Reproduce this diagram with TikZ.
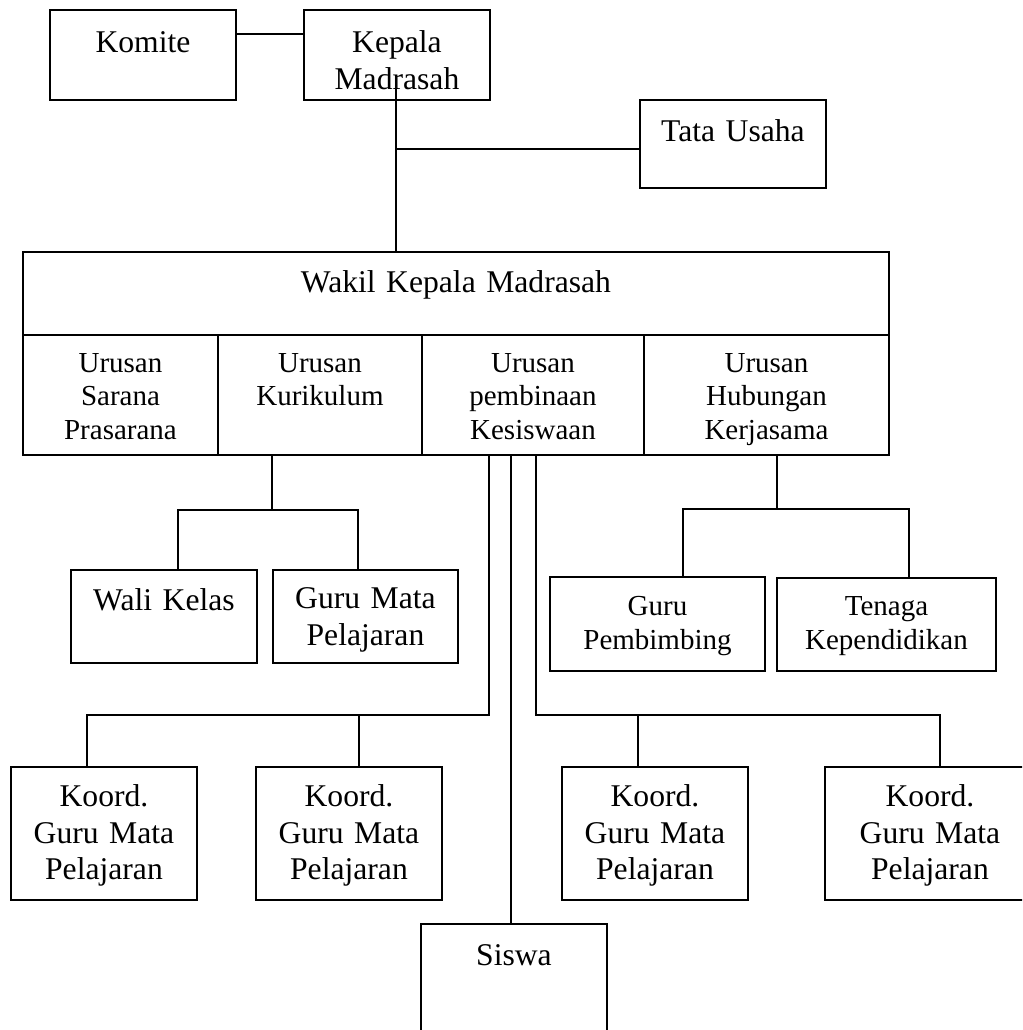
\documentclass[tikz,border=0pt]{standalone}
\usepackage{fontspec}
\setmainfont{Liberation Serif}
\usetikzlibrary{positioning,calc}
\newlength{\pxu}
\setlength{\pxu}{0.02cm}
\newcommand{\orgfont}{\fontsize{18}{20.6}\selectfont}
\newcommand{\orgsmallfont}{\fontsize{16.5}{18.8}\selectfont}

\begin{document}
\begin{tikzpicture}[
    x=0.02cm, y=-0.02cm,
    orgbox/.style n args={3}{draw, line width=1.1pt, anchor=north west,
        inner sep=0pt, align=center, font=\orgfont,
        text width=#1\pxu, text height=#3\pxu, text depth=#2\pxu-#3\pxu},
    smalltext/.style={font=\orgsmallfont},
    link/.style={line width=1.1pt}
]
\useasboundingbox (0,0) rectangle (1022,1030);
\clip (0,0) rectangle (1022,1030);

% ---- Top level ----
\node[orgbox={186}{90}{43}] (komite) at (49,9) {Komite};
\node[orgbox={186}{90}{43}] (kepala) at (303,9) {Kepala\\Madrasah};
\node[orgbox={186}{88}{42}] (tata) at (639,99) {Tata Usaha};

% ---- Wakil and urusan ----
\node[orgbox={866}{83}{41}] (wakil) at (22,251) {Wakil Kepala Madrasah};
\node[orgbox={195}{120}{38}, smalltext] (sarana) at (22,334) {Urusan\\Sarana\\Prasarana};
\node[orgbox={204}{120}{38}, smalltext] (kurikulum) at (217,334) {Urusan\\Kurikulum};
\node[orgbox={222}{120}{38}, smalltext] (pembinaan) at (421,334) {Urusan\\pembinaan\\Kesiswaan};
\node[orgbox={245}{120}{38}, smalltext] (hubungan) at (643,334) {Urusan\\Hubungan\\Kerjasama};

% ---- Middle row ----
\node[orgbox={186}{93}{41}] (wali) at (70,569) {Wali Kelas};
\node[orgbox={185}{93}{39}] (gurumapel) at (272,569) {Guru Mata\\Pelajaran};
\node[orgbox={215}{94}{39}, smalltext] (pembimbing) at (549,576) {Guru\\Pembimbing};
\node[orgbox={219}{93}{38}, smalltext] (tenaga) at (776,577) {Tenaga\\Kependidikan};

% ---- Koordinator row ----
\node[orgbox={186}{133}{40}] (koord1) at (10,766) {Koord.\\Guru Mata\\Pelajaran};
\node[orgbox={186}{133}{40}] (koord2) at (255,766) {Koord.\\Guru Mata\\Pelajaran};
\node[orgbox={186}{133}{40}] (koord3) at (561,766) {Koord.\\Guru Mata\\Pelajaran};
\node[orgbox={210}{133}{40}] (koord4) at (824,766) {Koord.\\Guru Mata\\Pelajaran};

% ---- Siswa ----
\node[orgbox={186}{120}{42}] (siswa) at (420,923) {Siswa};

% Top connectors
\draw[link] ([yshift=-25\pxu]komite.north east) -- ([yshift=-25\pxu]kepala.north west);
\coordinate (kmdrop) at (396,85);
\coordinate (tatain) at ([yshift=-5\pxu]tata.west);
\draw[link] (kmdrop) -- (kmdrop |- wakil.north);
\draw[link] (kmdrop |- tatain) -- (tatain);

% Kurikulum branch
\coordinate (kurm) at (272,510);
\coordinate (kurl) at (178,510);
\coordinate (kurr) at (358,510);
\draw[link] (kurm |- kurikulum.south) -- (kurm);
\draw[link] (kurl |- wali.north) -- (kurl) -- (kurr) -- (kurr |- gurumapel.north);

% Hubungan branch
\coordinate (hubm) at (777,509);
\coordinate (hubl) at (683,509);
\coordinate (hubr) at (909,509);
\draw[link] (hubm |- hubungan.south) -- (hubm);
\draw[link] (hubl |- pembimbing.north) -- (hubl) -- (hubr) -- (hubr |- tenaga.north);

% Pembinaan branches
\coordinate (pbl) at (489,715);
\coordinate (pbs) at (511,715);
\coordinate (pbr) at (536,715);
\coordinate (kd1) at (87,715);
\coordinate (kd2) at (359,715);
\coordinate (kd3) at (638,715);
\coordinate (kd4) at (940,715);
\draw[link] (pbl |- pembinaan.south) -- (pbl) -- (kd1) -- (kd1 |- koord1.north);
\draw[link] (kd2) -- (kd2 |- koord2.north);
\draw[link] (pbs |- pembinaan.south) -- (pbs |- siswa.north);
\draw[link] (pbr |- pembinaan.south) -- (pbr) -- (kd4) -- (kd4 |- koord4.north);
\draw[link] (kd3) -- (kd3 |- koord3.north);
\end{tikzpicture}
\end{document}
